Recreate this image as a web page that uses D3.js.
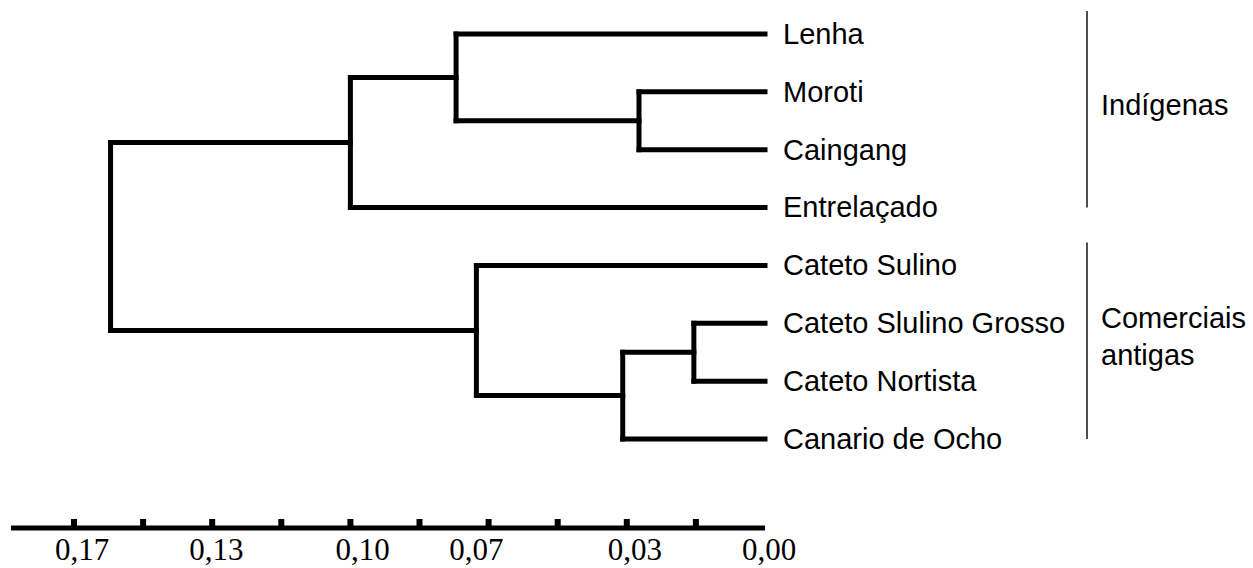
<!DOCTYPE html>
<html>
<head>
<meta charset="utf-8">
<script src="https://cdn.jsdelivr.net/npm/d3@7"></script>
<style>
  html, body { margin: 0; padding: 0; background: #fff; }
  svg { display: block; }
</style>
</head>
<body>
<svg id="chart"></svg>
<script>
// folhas do dendrograma, de cima para baixo
const leaves = ['Lenha', 'Moroti', 'Caingang', 'Entrelaçado',
  'Cateto Sulino', 'Cateto Slulino Grosso', 'Cateto Nortista', 'Canario de Ocho'];

// fusões (n0, n1, ... na ordem) e distância de cada uma
const mergeLeft   = ['Moroti', 'Lenha', 'n1', 'Cateto Slulino Grosso', 'n3', 'Cateto Sulino', 'n2'];
const mergeRight  = ['Caingang', 'n0', 'Entrelaçado', 'Cateto Nortista', 'Canario de Ocho', 'n4', 'n5'];
const mergeHeight = [0.031, 0.076, 0.102, 0.0175, 0.035, 0.071, 0.161];

// eixo
const tickValues = [0.017, 0.034, 0.051, 0.068, 0.085, 0.102, 0.119, 0.136, 0.153, 0.17];
const labelValues = [0.168, 0.135, 0.099, 0.071, 0.032, -0.001];
const labelTexts = ['0,17', '0,13', '0,10', '0,07', '0,03', '0,00'];

// grupos
const groupNames = [['Indígenas'], ['Comerciais', 'antigas']];
const groupFirst = ['Lenha', 'Cateto Sulino'];
const groupLast = ['Entrelaçado', 'Canario de Ocho'];

const width = 1253, height = 568;
const svg = d3.select('#chart').attr('width', width).attr('height', height);

const x = d3.scaleLinear().domain([0.17, 0]).range([74, 765]);
const y = d3.scalePoint().domain(leaves).range([34, 439]);

// monta os nós
const nodes = {};
leaves.forEach(name => { nodes[name] = { name, h: 0, y: y(name) }; });
mergeLeft.forEach((l, i) => {
  const a = nodes[l], b = nodes[mergeRight[i]];
  nodes['n' + i] = { name: 'n' + i, h: mergeHeight[i], y: (a.y + b.y) / 2, children: [a, b] };
});

const tree = svg.append('g')
  .attr('fill', 'none')
  .attr('stroke', '#000')
  .attr('stroke-width', 5)
  .attr('stroke-linecap', 'square');

Object.values(nodes).filter(n => n.children).forEach(n => {
  const [a, b] = n.children;
  tree.append('path').attr('d', `M${x(n.h)},${a.y}V${b.y}`);
  n.children.forEach(c => {
    tree.append('path').attr('d', `M${x(n.h)},${c.y}H${x(c.h)}`);
  });
});

// rótulos das folhas
svg.append('g').selectAll('text')
  .data(leaves)
  .enter()
  .append('text')
  .attr('x', x(0) + 18)
  .attr('y', d => y(d))
  .attr('dy', '0.34em')
  .attr('font-family', '"Liberation Sans", Arial, sans-serif')
  .attr('font-size', 29)
  .attr('fill', '#000')
  .text(d => d);

// colchetes dos grupos
groupNames.forEach((lines, i) => {
  const y0 = y(groupFirst[i]) - 23, y1 = y(groupLast[i]);
  svg.append('line')
    .attr('x1', 1087).attr('x2', 1087)
    .attr('y1', y0).attr('y2', y1)
    .attr('stroke', '#222').attr('stroke-width', 1.6);
  const mid = (y0 + y1) / 2 - 4;
  const lh = 37;
  const t = svg.append('text')
    .attr('font-family', '"Liberation Sans", Arial, sans-serif')
    .attr('font-size', 29)
    .attr('fill', '#000');
  lines.forEach((s, j) => {
    t.append('tspan')
      .attr('x', 1101)
      .attr('y', mid + (j - (lines.length - 1) / 2) * lh)
      .attr('dy', '0.34em')
      .text(s);
  });
});

// eixo de distância
const axisY = 528;
const axis = svg.append('g');
axis.append('line')
  .attr('x1', 11).attr('x2', x(0))
  .attr('y1', axisY).attr('y2', axisY)
  .attr('stroke', '#000').attr('stroke-width', 5);
axis.selectAll('rect.tick')
  .data(tickValues)
  .enter()
  .append('rect')
  .attr('class', 'tick')
  .attr('x', d => x(d) - 3)
  .attr('y', axisY - 9)
  .attr('width', 6)
  .attr('height', 9)
  .attr('fill', '#000');
axis.selectAll('text')
  .data(labelValues)
  .enter()
  .append('text')
  .attr('x', d => x(d))
  .attr('y', 560)
  .attr('text-anchor', 'middle')
  .attr('font-family', '"Liberation Serif", "Times New Roman", serif')
  .attr('font-size', 31)
  .attr('fill', '#000')
  .text((d, i) => labelTexts[i]);
</script>
</body>
</html>
